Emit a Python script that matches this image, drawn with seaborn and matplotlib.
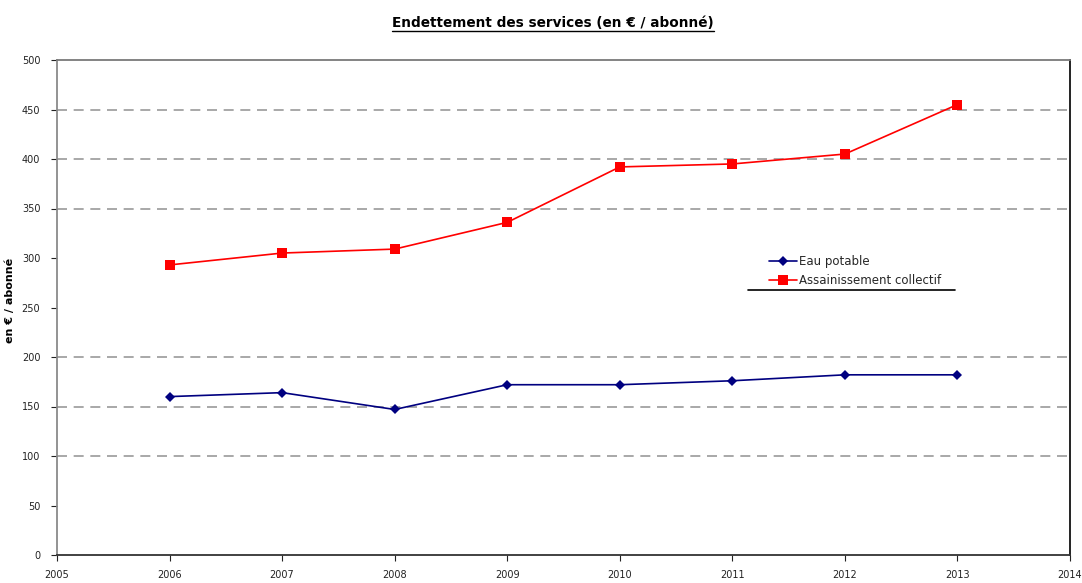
import matplotlib
matplotlib.use("Agg")
import matplotlib.pyplot as plt
import seaborn as sns
import pandas as pd
from matplotlib.lines import Line2D

years = [2006, 2007, 2008, 2009, 2010, 2011, 2012, 2013]
eau_potable = [160, 164, 147, 172, 172, 176, 182, 182]
assainissement = [293, 305, 309, 336, 392, 395, 405, 455]
series_names = ["Eau potable", "Assainissement collectif"]
grid_values = [100, 150, 200, 350, 400, 450]
x_ticks = list(range(2005, 2015))
y_ticks = list(range(0, 501, 50))

sns.set_style("white")
plt.rcParams['font.family'] = ['Liberation Sans Narrow', 'DejaVu Sans']

df = pd.DataFrame({
    "year": years * 2,
    "value": eau_potable + assainissement,
    "serie": [series_names[0]] * len(years) + [series_names[1]] * len(years),
})

fig = plt.figure(figsize=(10.82, 5.83), dpi=100)
ax = fig.add_axes([57 / 1082, 28 / 583, (1070 - 57) / 1082, (555 - 60) / 583])

for v in grid_values:
    ax.axhline(v, color="#9a9a9a", lw=1.2, ls=(0, (6, 4)), zorder=0)

sns.lineplot(data=df, x="year", y="value", hue="serie", style="serie",
             markers={series_names[0]: "D", series_names[1]: "s"},
             dashes=False,
             palette={series_names[0]: "#000080", series_names[1]: "#ff0000"},
             markersize=6, markeredgewidth=0, lw=1.2, ax=ax, legend=False)
for line in ax.get_lines():
    if line.get_marker() == "D":
        line.set_markersize(5)
    elif line.get_marker() == "s":
        line.set_markersize(7)

ax.set_xlim(2005, 2014)
ax.set_ylim(0, 500)
ax.set_xticks(x_ticks)
ax.set_yticks(y_ticks)
ax.set_xlabel("")
ax.set_ylabel("en € / abonné", fontsize=8, fontweight="bold", color="black")
ax.yaxis.set_label_coords(-0.041, 0.515)
ax.tick_params(axis="both", labelsize=7, colors="#222222", length=4, direction="out")
ax.tick_params(axis="x", pad=7)
ax.tick_params(axis="y", pad=8)
ax.xaxis.set_ticks_position("bottom")
ax.yaxis.set_ticks_position("left")

ax.spines["left"].set_color("#8a8a8a")
ax.spines["top"].set_color("#7a7a7a")
ax.spines["bottom"].set_color("#333333")
ax.spines["right"].set_color("#111111")
for s in ax.spines.values():
    s.set_linewidth(1.3)

handles = [
    Line2D([0], [0], color="#000080", marker="D", markersize=5, lw=1.2, markeredgewidth=0),
    Line2D([0], [0], color="#ff0000", marker="s", markersize=7, lw=1.2, markeredgewidth=0),
]
leg = ax.legend(handles, series_names, loc="upper left", bbox_to_anchor=(0.692, 0.628),
                frameon=False, fontsize=8.5, handlelength=2.4, handletextpad=0.2,
                labelspacing=0.55)
fig.add_artist(Line2D([748 / 1082, 955 / 1082], [1 - 290 / 583, 1 - 290 / 583],
                      color="black", lw=1.2))

t = fig.text(0.511, 1 - 23 / 583, "Endettement des services (en € / abonné)",
             ha="center", va="center", fontsize=9.8, fontweight="bold", color="black")
fig.canvas.draw()
bb = t.get_window_extent()
y_line = (bb.y0 - 1) / fig.bbox.height
fig.add_artist(Line2D([bb.x0 / fig.bbox.width, bb.x1 / fig.bbox.width], [y_line, y_line],
                      color="black", lw=1.0))

fig.savefig("out.png", dpi=100)
